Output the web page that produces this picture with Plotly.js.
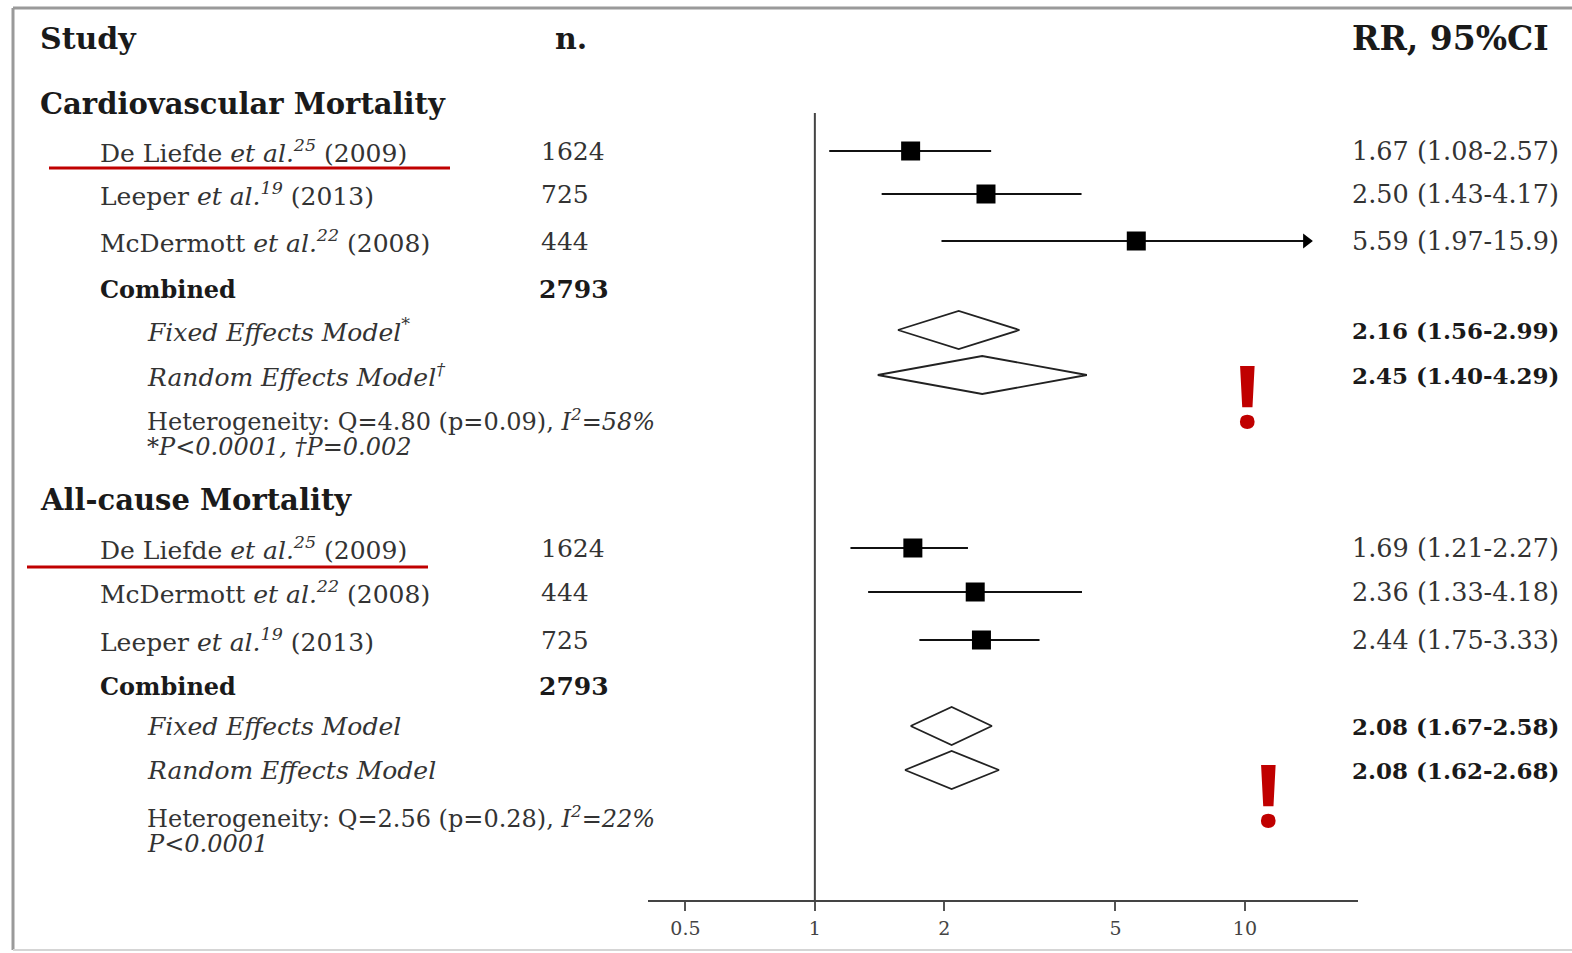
<!DOCTYPE html>
<html><head><meta charset="utf-8">
<script src="https://cdn.plot.ly/plotly-3.0.1.min.js"></script>
<style>html,body{margin:0;padding:0;background:#fff;overflow:hidden}</style>
</head><body><div id="chart" style="width:1572px;height:953px"></div>
<script>
// ---------- DATA ----------
const cvStudies = ["De Liefde <i>et al.<sup>25</sup></i> (2009)", "Leeper <i>et al.<sup>19</sup></i> (2013)", "McDermott <i>et al.<sup>22</sup></i> (2008)"];
const cvN = [1624, 725, 444];
const cvRR = [1.67, 2.50, 5.59];
const cvLo = [1.08, 1.43, 1.97];
const cvHi = [2.57, 4.17, 15.9];
const cvCombinedN = 2793;
const cvModels = ["Fixed Effects Model<sup>*</sup>", "Random Effects Model<sup>†</sup>"];
const cvModelRR = [2.16, 2.45];
const cvModelLo = [1.56, 1.40];
const cvModelHi = [2.99, 4.29];
const cvHet = ["Heterogeneity: Q=4.80 (p=0.09), <i>I<sup>2</sup>=58%</i>", "<i>*P&lt;0.0001, †P=0.002</i>"];

const acStudies = ["De Liefde <i>et al.<sup>25</sup></i> (2009)", "McDermott <i>et al.<sup>22</sup></i> (2008)", "Leeper <i>et al.<sup>19</sup></i> (2013)"];
const acN = [1624, 444, 725];
const acRR = [1.69, 2.36, 2.44];
const acLo = [1.21, 1.33, 1.75];
const acHi = [2.27, 4.18, 3.33];
const acCombinedN = 2793;
const acModels = ["Fixed Effects Model", "Random Effects Model"];
const acModelRR = [2.08, 2.08];
const acModelLo = [1.67, 1.62];
const acModelHi = [2.58, 2.68];
const acHet = ["Heterogeneity: Q=2.56 (p=0.28), <i>I<sup>2</sup>=22%</i>", "<i>P&lt;0.0001</i>"];

const sectionTitles = ["Cardiovascular Mortality", "All-cause Mortality"];
const headers = ["Study", "n.", "RR, 95%CI"];
const tickVals = [0.5, 1, 2, 5, 10];
const tickText = ["0.5", "1", "2", "5", "10"];

// ---------- LAYOUT (pixel positions) ----------
const W = 1572, H = 953;
const AXIS_Y = 900;
const CLIP = 13.9;          // CI arrows truncated at this axis value
const DIA_HALF = 19;
const sections = [
  {title: sectionTitles[0], headerY: 104, rowY: [151, 194, 241], combY: 289, modelY: [330, 375], hetY: [420, 447],
   studies: cvStudies, n: cvN, rr: cvRR, lo: cvLo, hi: cvHi, combN: cvCombinedN,
   models: cvModels, mrr: cvModelRR, mlo: cvModelLo, mhi: cvModelHi, het: cvHet},
  {title: sectionTitles[1], headerY: 500, rowY: [548, 592, 640], combY: 686, modelY: [726, 770], hetY: [817, 844],
   studies: acStudies, n: acN, rr: acRR, lo: acLo, hi: acHi, combN: acCombinedN,
   models: acModels, mrr: acModelRR, mlo: acModelLo, mhi: acModelHi, het: acHet}
];
const X_SEC = 38, X_STUDY = 98, X_MODEL = 145, X_N = 539, X_RR = 1350;
const FONT = "DejaVu Serif";
const TXT = "#333", BOLD = "#1a1a1a";
const fmt = v => v >= 10 ? v.toFixed(1) : v.toFixed(2);

const traces = [];
const annotations = [];
function ann(xpx, y, text, size, color, extra) {
  annotations.push(Object.assign({xref: "paper", yref: "y", x: xpx / W, y: y, text: text,
    showarrow: false, xanchor: "left", yanchor: "middle",
    font: {family: FONT, size: size, color: color}}, extra || {}));
}

// reference line at RR = 1
traces.push({type: "scatter", mode: "lines", x: [1, 1], y: [113, AXIS_Y],
  line: {color: "#444", width: 2}, hoverinfo: "skip"});

sections.forEach(s => {
  // CI lines
  const lx = [], ly = [];
  s.rr.forEach((r, i) => { lx.push(s.lo[i], Math.min(s.hi[i], CLIP), null); ly.push(s.rowY[i], s.rowY[i], null); });
  traces.push({type: "scatter", mode: "lines", x: lx, y: ly, line: {color: "#111", width: 2.2}, hoverinfo: "skip"});
  // squares
  traces.push({type: "scatter", mode: "markers", x: s.rr, y: s.rowY,
    marker: {symbol: "square", size: 19, color: "#000"}, hoverinfo: "skip"});
  // arrows for truncated CIs
  const ax = [], ay = [];
  s.hi.forEach((h, i) => { if (h > CLIP) { ax.push(CLIP); ay.push(s.rowY[i]); } });
  if (ax.length) traces.push({type: "scatter", mode: "markers", x: ax, y: ay,
    marker: {symbol: "triangle-right", size: 13, color: "#000"}, hoverinfo: "skip"});
  // diamonds
  s.mrr.forEach((r, i) => {
    const y = s.modelY[i];
    traces.push({type: "scatter", mode: "lines", fill: "toself", fillcolor: "#fff",
      x: [s.mlo[i], r, s.mhi[i], r, s.mlo[i]], y: [y, y - DIA_HALF, y, y + DIA_HALF, y],
      line: {color: "#222", width: 1.8}, hoverinfo: "skip"});
  });

  // text
  ann(X_SEC, s.headerY, "<b>" + s.title + "</b>", 29, BOLD);
  s.studies.forEach((t, i) => {
    ann(X_STUDY, s.rowY[i], t, 25, TXT);
    ann(X_N, s.rowY[i], String(s.n[i]), 25, TXT);
    ann(X_RR, s.rowY[i], fmt(s.rr[i]) + " (" + fmt(s.lo[i]) + "-" + fmt(s.hi[i]) + ")", 25.5, TXT);
  });
  ann(X_STUDY, s.combY, "<b>Combined</b>", 24, BOLD);
  ann(X_N - 2, s.combY, "<b>" + s.combN + "</b>", 25, BOLD);
  s.models.forEach((t, i) => {
    ann(X_MODEL, s.modelY[i], "<i>" + t + "</i>", 25, TXT);
    ann(X_RR, s.modelY[i], "<b>" + fmt(s.mrr[i]) + " (" + fmt(s.mlo[i]) + "-" + fmt(s.mhi[i]) + ")</b>", 23, BOLD);
  });
  s.het.forEach((t, i) => ann(X_MODEL, s.hetY[i], t, 24, TXT));
});

// column headers
ann(38, 38, "<b>" + headers[0] + "</b>", 30, BOLD);
ann(553, 38, "<b>" + headers[1] + "</b>", 30, BOLD);
ann(1350, 38, "<b>" + headers[2] + "</b>", 33, BOLD);

// red exclamation marks
annotations.push({xref: "paper", yref: "y", x: 1247 / W, y: 394, text: "<b>!</b>", showarrow: false,
  xanchor: "center", yanchor: "middle", font: {family: "Open Sans", size: 86, color: "#c00000"}});
annotations.push({xref: "paper", yref: "y", x: 1268 / W, y: 793, text: "<b>!</b>", showarrow: false,
  xanchor: "center", yanchor: "middle", font: {family: "Open Sans", size: 86, color: "#c00000"}});

const P = (xpx) => xpx / W, Q = (ypx) => 1 - ypx / H;
const shapes = [
  // frame
  {type: "line", xref: "paper", yref: "paper", x0: P(13), x1: P(1572), y0: Q(8), y1: Q(8), line: {color: "#9a9a9a", width: 3}},
  {type: "line", xref: "paper", yref: "paper", x0: P(13), x1: P(13), y0: Q(8), y1: Q(950), line: {color: "#9a9a9a", width: 3}},
  {type: "line", xref: "paper", yref: "paper", x0: P(13), x1: P(1572), y0: Q(950), y1: Q(950), line: {color: "#d5d5d5", width: 2}},
  // red underlines
  {type: "line", xref: "paper", yref: "paper", x0: P(49), x1: P(450), y0: Q(168), y1: Q(168), line: {color: "#c00000", width: 3}},
  {type: "line", xref: "paper", yref: "paper", x0: P(27), x1: P(428), y0: Q(567), y1: Q(567), line: {color: "#c00000", width: 3}}
];

const layout = {
  width: W, height: H, margin: {l: 0, r: 0, t: 0, b: 0},
  paper_bgcolor: "#fff", plot_bgcolor: "rgba(0,0,0,0)", showlegend: false,
  xaxis: {type: "log", range: [-0.388, 1.263], domain: [648 / W, 1358 / W],
    showline: true, linecolor: "#444", linewidth: 2, ticks: "outside", ticklen: 9, tickwidth: 2, tickcolor: "#555",
    tickvals: tickVals, ticktext: tickText, tickfont: {family: FONT, size: 19, color: "#444"}, ticklabelstandoff: 1,
    showgrid: false, zeroline: false, fixedrange: true},
  yaxis: {range: [AXIS_Y, 0], domain: [(H - AXIS_Y) / H, 1], visible: false, fixedrange: true},
  annotations: annotations, shapes: shapes
};
Plotly.newPlot("chart", traces, layout, {displayModeBar: false, staticPlot: true});
</script></body></html>
